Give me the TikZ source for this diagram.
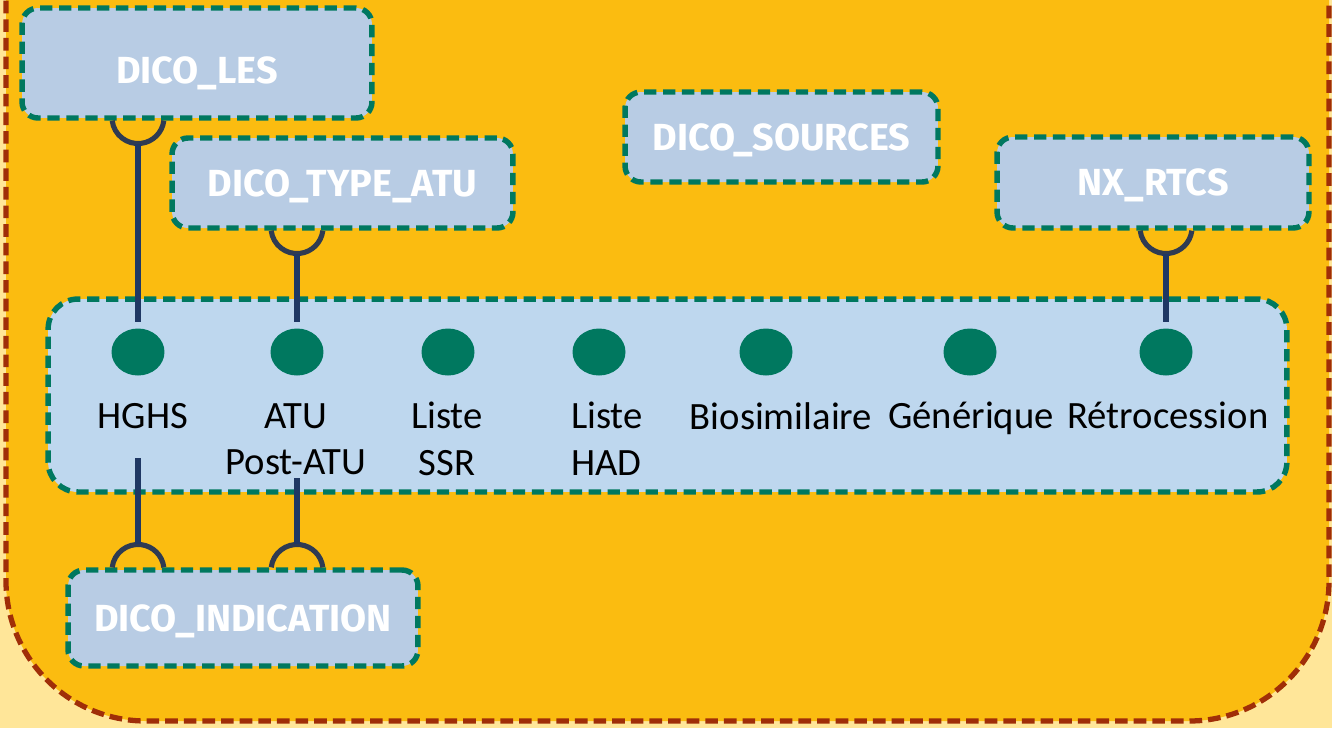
\documentclass[tikz,border=0pt]{standalone}
\usepackage{fontspec}
\setmainfont{Carlito}
\newfontfamily\headfont{Fira Sans}
\usetikzlibrary{shapes.geometric,positioning}
\definecolor{paleback}{RGB}{255,230,153}
\definecolor{goldfill}{RGB}{251,188,16}
\definecolor{rustline}{RGB}{160,46,8}
\definecolor{tealline}{RGB}{0,120,95}
\definecolor{dicofill}{RGB}{184,204,228}
\definecolor{groupfill}{RGB}{190,215,238}
\definecolor{linknavy}{RGB}{31,56,100}
\definecolor{socketgray}{RGB}{47,59,82}

\begin{document}
\begin{tikzpicture}[x=0.02cm, y=-0.02cm,
    dico/.style={draw=tealline, fill=dicofill, rounded corners=0.32cm, line width=3.1pt,
        dash pattern=on 7pt off 3.8pt, text=white, text height=14.8pt, text depth=0pt,
        font=\headfont\bfseries\fontsize{21.5}{24}\selectfont},
    group/.style={draw=tealline, fill=groupfill, rounded corners=0.6cm, line width=3.1pt,
        dash pattern=on 7pt off 3.8pt},
    dot/.style={ellipse, fill=tealline, minimum width=1.06cm, minimum height=0.94cm, inner sep=0pt},
    item/.style={anchor=north, inner sep=0pt, align=center, font=\fontsize{22}{26.5}\selectfont},
    link/.style={draw=linknavy, line width=2.9pt},
    socket/.style={draw=socketgray, line width=2.9pt}]
    \useasboundingbox (0,0) rectangle (1332,728);
    \fill[paleback] (0,0) rectangle (1332,728);
    % outer frame, top edge runs off the picture
    \begin{scope}
        \clip (0,0) rectangle (1332,728);
        \draw[fill=goldfill, draw=rustline, line width=3pt, dash pattern=on 7.2pt off 3.4pt,
            rounded corners=2.8cm] (6,-400) rectangle (1329,721);
    \end{scope}

    % Dictionary boxes
    \node[dico, minimum width=7cm, minimum height=2.2cm, text height=14.8pt+0.28cm] (les) at (197,63) {DICO\_LES};
    \node[dico, minimum width=6.82cm, minimum height=1.8cm] (typeatu) at (342.5,183) {DICO\_TYPE\_ATU};
    \node[dico, minimum width=6.26cm, minimum height=1.8cm] (sources) at (781.5,137) {DICO\_SOURCES};
    \node[dico, minimum width=6.24cm, minimum height=1.82cm] (rtcs) at (1153,182.5) {NX\_RTCS};
    \node[dico, minimum width=7cm, minimum height=1.92cm] (indic) at (243,618) {DICO\_INDICATION};

    % Group of values
    \node[group, minimum width=24.78cm, minimum height=3.86cm] (grp) at (667.5,395.5) {};
    \node[dot] (d1) at (138,352) {};
    \node[dot] (d2) at (297,352) {};
    \node[dot] (d3) at (448,352) {};
    \node[dot] (d4) at (599,352) {};
    \node[dot] (d5) at (766,352) {};
    \node[dot] (d6) at (970,352) {};
    \node[dot] (d7) at (1166,352) {};
    \node[item] (l1) at (143,403) {HGHS};
    \node[item] (l2) at (296,403) {ATU\\Post-ATU};
    \node[item] (l3) at (447,402) {Liste\\SSR};
    \node[item, align=left] (l4) at (607,402) {Liste\\HAD};
    \node[item] (l5) at (781,402) {Biosimilaire};
    \node[item] (l6) at (971,402) {Générique};
    \node[item] (l7) at (1168,402) {Rétrocession};

    % Sockets below the upper boxes
    \coordinate (k1) at (d1 |- les.south);
    \coordinate (k2) at (d2 |- typeatu.south);
    \coordinate (k7) at (d7 |- rtcs.south);
    \foreach \k/\d in {k1/d1, k2/d2, k7/d7} {
        \draw[socket] ([xshift=-0.516cm]\k) arc[start angle=187, end angle=353, radius=0.52cm];
        \draw[link] ([yshift=-0.46cm]\k) -- ([yshift=0.12cm]\d.north);
    }

    % Sockets above DICO_INDICATION
    \coordinate (c1) at (d1 |- indic.north);
    \coordinate (c2) at (d2 |- indic.north);
    \draw[socket] ([xshift=-0.516cm]c1) arc[start angle=173, end angle=7, radius=0.52cm];
    \draw[socket] ([xshift=-0.516cm]c2) arc[start angle=173, end angle=7, radius=0.52cm];
    \draw[link] ([yshift=0.46cm]c1) -- +(0,1.72cm);
    \draw[link] ([yshift=0.46cm]c2) -- +(0,1.32cm);
\end{tikzpicture}
\end{document}
